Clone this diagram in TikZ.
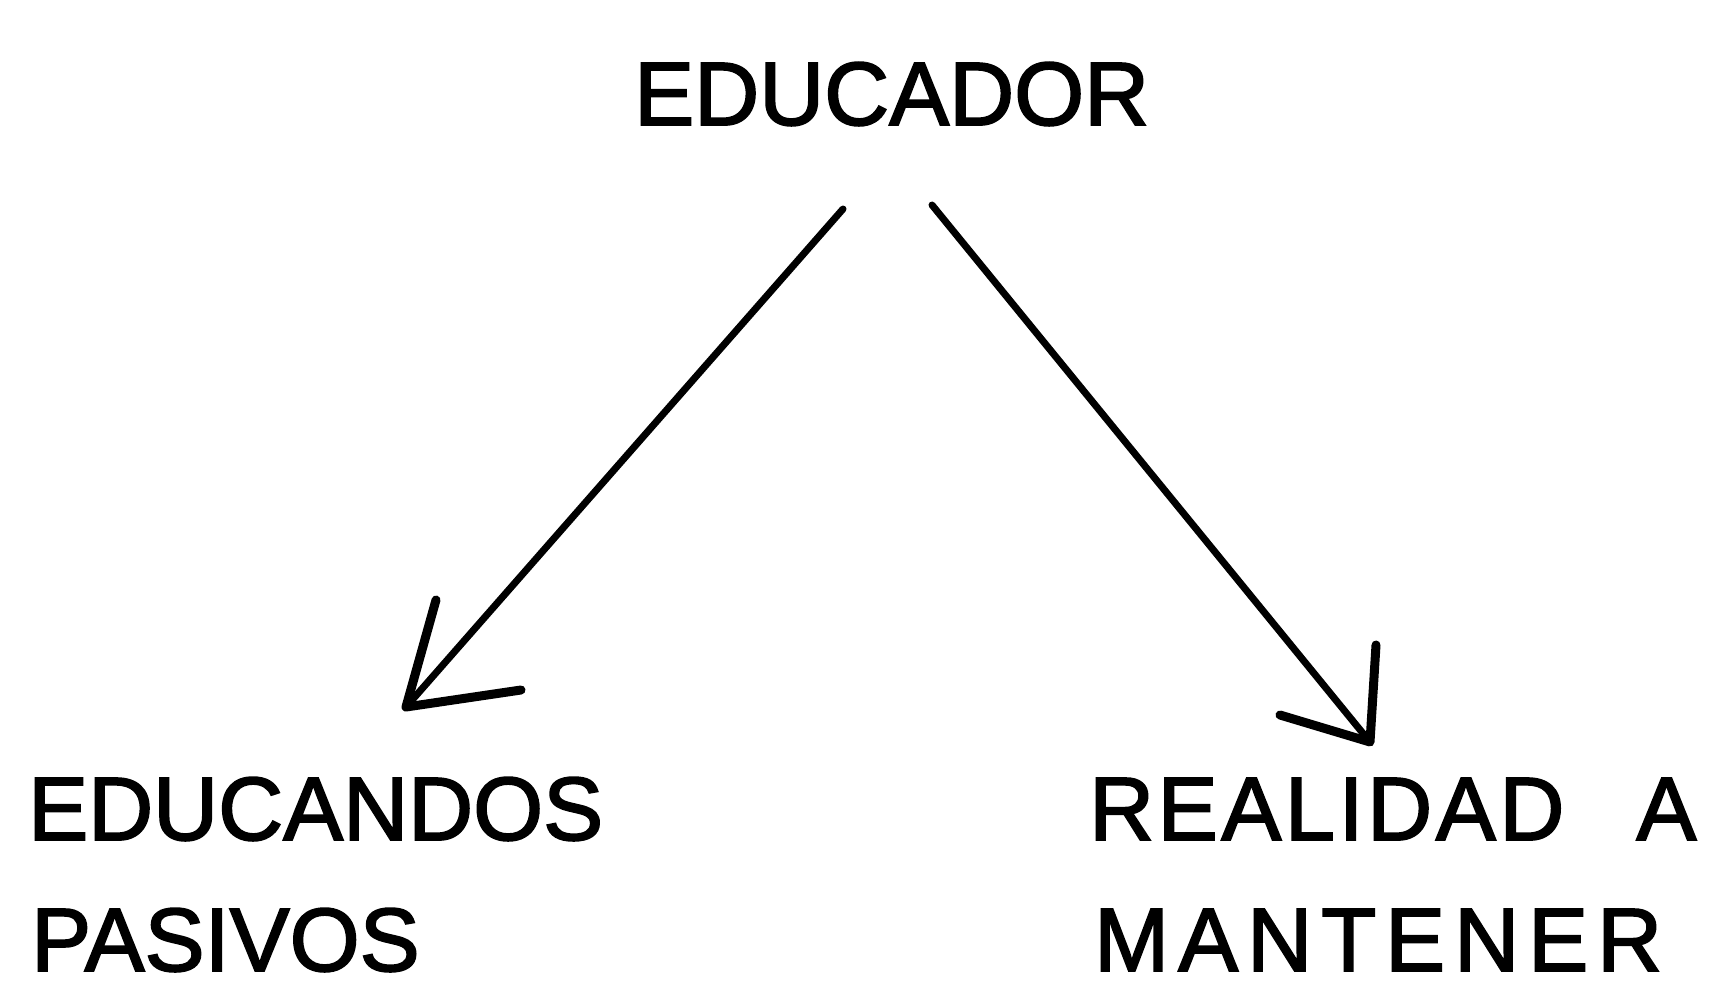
\documentclass[tikz,border=0pt]{standalone}
\usepackage{fontspec}
\setmainfont[FakeBold=2]{Liberation Sans}
\newfontfamily\widefont[LetterSpace=10,FakeBold=2]{Liberation Sans}
\newfontfamily\midfont[LetterSpace=4,FakeBold=2]{Liberation Sans}
\begin{document}
\begin{tikzpicture}[x=1pt,y=-1pt,
  lbl/.style={inner sep=0pt,anchor=base west,font=\fontsize{90}{100}\selectfont},
  shaft/.style={line width=7pt,line cap=round},
  barb/.style={line width=9pt,line cap=round,line join=round}]
\useasboundingbox (0,0) rectangle (1710,981);
\node[lbl] (educador) at (634,125) {EDUCADOR};
\node[lbl] (educandos) at (28,840) {EDUCANDOS};
\node[lbl] (pasivos) at (31,971) {PASIVOS};
\node[lbl,font=\midfont\fontsize{90}{100}\selectfont] (realidad) at (1089,840) {REALIDAD\hspace{72pt}A};
\node[lbl,font=\widefont\fontsize{90}{100}\selectfont] (mantener) at (1094,971) {MANTENER};
% left arrow
\coordinate (ltail) at (843,209);
\coordinate (ltip) at (406,707);
\coordinate (lb1) at (436,600);
\coordinate (lb2) at (521,690);
\draw[shaft] (ltail) -- (ltip);
\draw[barb] (lb1) -- (ltip) -- (lb2);
% right arrow
\coordinate (rtail) at (932,205);
\coordinate (rtip) at (1370,742);
\coordinate (rb1) at (1376,645);
\coordinate (rb2) at (1280,715);
\draw[shaft] (rtail) -- (rtip);
\draw[barb] (rb1) -- (rtip) -- (rb2);
\end{tikzpicture}
\end{document}
